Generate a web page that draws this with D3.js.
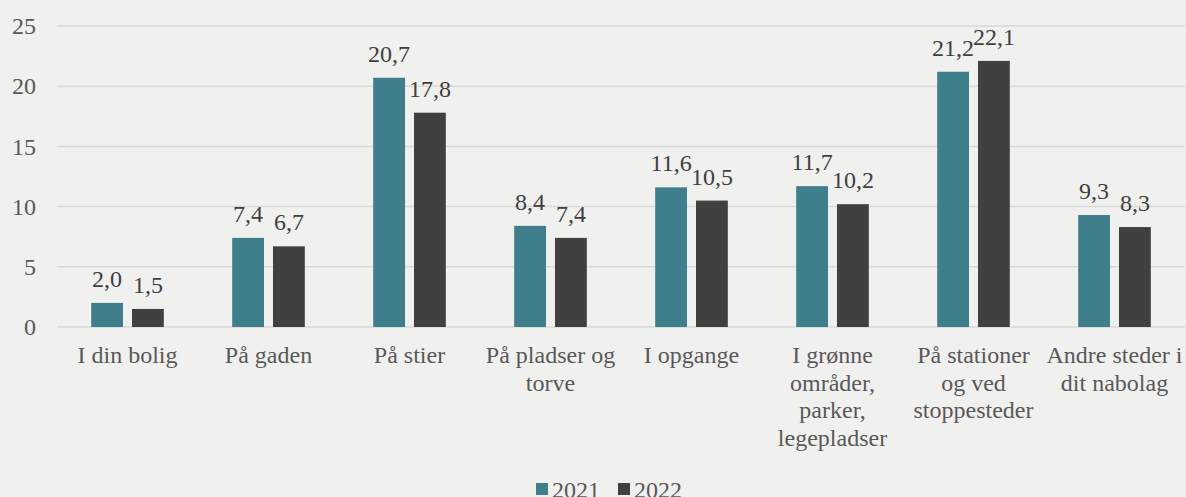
<!DOCTYPE html>
<html>
<head>
<meta charset="utf-8">
<script src="https://cdn.jsdelivr.net/npm/d3@7"></script>
<style>
  body { margin: 0; background: #f0f0ee; }
  svg text { font-family: "Liberation Serif", "Times New Roman", "DejaVu Serif", serif !important; }
</style>
</head>
<body>
<div id="chart"></div>
<script>
(function() {
  // data
  var categories = [
    ["I din bolig"],
    ["På gaden"],
    ["På stier"],
    ["På pladser og", "torve"],
    ["I opgange"],
    ["I grønne", "områder,", "parker,", "legepladser"],
    ["På stationer", "og ved", "stoppesteder"],
    ["Andre steder i", "dit nabolag"]
  ];
  var series = ["2021", "2022"];
  var values2021 = [2.0, 7.4, 20.7, 8.4, 11.6, 11.7, 21.2, 9.3];
  var values2022 = [1.5, 6.7, 17.8, 7.4, 10.5, 10.2, 22.1, 8.3];
  var yTicks = [0, 5, 10, 15, 20, 25];

  var colors = ["#3e7f8b", "#404040"];
  var serif = "'Liberation Serif', 'Times New Roman', serif";
  var fontSize = 24;

  var margin = { top: 26, left: 57, right: 1, bottom: 170 },
      width = 1186 - margin.left - margin.right,
      height = 497 - margin.top - margin.bottom;

  var svg = d3.select("#chart")
      .append("svg")
      .attr("width", 1186)
      .attr("height", 497)
      .attr("font-family", serif)
      .style("display", "block")
      .style("background", "#f0f0ee")
      .append("g")
      .attr("transform", "translate(" + margin.left + "," + margin.top + ")");

  var xPositionScale = d3.scaleBand()
    .domain(d3.range(categories.length))
    .range([0, width])
    .paddingInner(0.485)
    .paddingOuter(0.2425);

  var xInner = d3.scaleBand()
    .domain(series)
    .range([0, xPositionScale.bandwidth()])
    .paddingInner(0.22);

  var yPositionScale = d3.scaleLinear()
    .domain([0, 25])
    .range([height, 0]);

  // gridlines
  svg.selectAll(".grid")
    .data(yTicks)
    .enter().append("line")
    .attr("x1", 0)
    .attr("x2", width)
    .attr("y1", function(d) { return yPositionScale(d); })
    .attr("y2", function(d) { return yPositionScale(d); })
    .attr("stroke", "#d9d9d9")
    .attr("stroke-width", 1.5);

  // y axis labels
  var yAxis = d3.axisLeft(yPositionScale).tickValues(yTicks).tickSize(0).tickPadding(21);
  var yG = svg.append("g").call(yAxis).attr("font-family", serif).attr("font-size", fontSize);
  yG.select(".domain").remove();
  yG.selectAll("text")
    .attr("fill", "#595959");

  var rows = [];
  categories.forEach(function(c, i) {
    rows.push({ i: i, s: "2021", v: values2021[i], c: colors[0] });
    rows.push({ i: i, s: "2022", v: values2022[i], c: colors[1] });
  });

  svg.selectAll(".bar")
    .data(rows)
    .enter().append("rect")
    .attr("x", function(d) { return xPositionScale(d.i) + xInner(d.s); })
    .attr("width", xInner.bandwidth())
    .attr("y", function(d) { return yPositionScale(d.v); })
    .attr("height", function(d) { return height - yPositionScale(d.v); })
    .attr("fill", function(d) { return d.c; });

  svg.selectAll(".lbl")
    .data(rows)
    .enter().append("text")
    .attr("x", function(d) { return xPositionScale(d.i) + xInner(d.s) + xInner.bandwidth() / 2; })
    .attr("y", function(d) { return yPositionScale(d.v) - 16; })
    .attr("text-anchor", "middle")
    .attr("fill", "#404040")
    .attr("font-size", fontSize)
    .text(function(d) { return d3.format(".1f")(d.v).replace(".", ","); });

  // category labels
  var catG = svg.selectAll(".cat")
    .data(categories)
    .enter().append("text")
    .attr("text-anchor", "middle")
    .attr("fill", "#595959")
    .attr("font-size", fontSize)
    .attr("transform", function(d, i) {
      return "translate(" + (xPositionScale(i) + xPositionScale.bandwidth() / 2) + "," + (height + 36) + ")";
    });
  catG.selectAll("tspan")
    .data(function(d) { return d; })
    .enter().append("tspan")
    .attr("x", 0)
    .attr("y", function(d, j) { return j * 27.6; })
    .text(function(d) { return d; });

  // legend
  var legend = svg.append("g")
    .attr("transform", "translate(" + (536 - margin.left) + "," + (489 - margin.top) + ")");
  var legItems = legend.selectAll("g")
    .data(series)
    .enter().append("g")
    .attr("transform", function(d, i) { return "translate(" + (i * 82) + ",0)"; });
  legItems.append("rect")
    .attr("x", 0)
    .attr("y", -6)
    .attr("width", 12)
    .attr("height", 12)
    .attr("fill", function(d, i) { return colors[i]; });
  legItems.append("text")
    .attr("x", 16)
    .attr("y", 9)
    .attr("fill", "#595959")
    .attr("font-size", fontSize)
    .text(function(d) { return d; });
})();
</script>
</body>
</html>
